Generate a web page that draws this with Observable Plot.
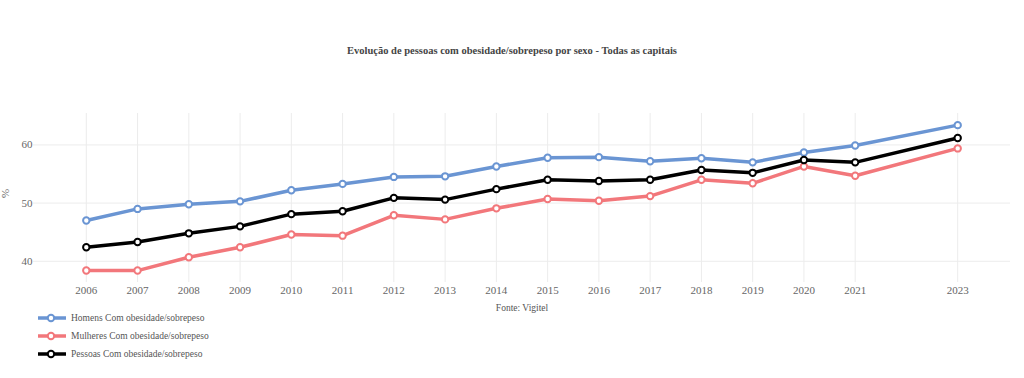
<!DOCTYPE html>
<html>
<head>
<meta charset="utf-8">
<script src="https://cdn.jsdelivr.net/npm/d3@7"></script>
<script src="https://cdn.jsdelivr.net/npm/@observablehq/plot@0.6"></script>
<style>
  html, body { margin: 0; padding: 0; background: #fff; }
  #wrap { position: relative; width: 1024px; height: 378px; font-family: "Liberation Serif", serif; overflow: hidden; }
  #title { position: absolute; top: 45px; left: 0; width: 1024px; text-align: center; font-size: 10.5px; font-weight: bold; color: #444; }
  #chart { position: absolute; top: 100px; left: 0; }
  #legend { position: absolute; top: 309px; left: 38px; }
  .item { display: flex; align-items: center; height: 18px; font-size: 9.5px; color: #555; }
  .item svg { margin-right: 5px; }
</style>
</head>
<body>
<div id="wrap">
  <div id="title">Evolução de pessoas com obesidade/sobrepeso por sexo - Todas as capitais</div>
  <div id="chart"></div>
  <div id="legend"></div>
</div>
<script>
const years = [2006, 2007, 2008, 2009, 2010, 2011, 2012, 2013, 2014, 2015, 2016, 2017, 2018, 2019, 2020, 2021, 2023];
const homens = [47.0, 49.0, 49.8, 50.3, 52.2, 53.3, 54.5, 54.6, 56.3, 57.8, 57.9, 57.2, 57.7, 57.0, 58.7, 59.9, 63.4];
const mulheres = [38.4, 38.4, 40.7, 42.4, 44.6, 44.4, 47.9, 47.2, 49.1, 50.7, 50.4, 51.2, 54.0, 53.4, 56.3, 54.7, 59.4];
const pessoas = [42.4, 43.3, 44.8, 46.0, 48.1, 48.6, 50.9, 50.6, 52.4, 54.0, 53.8, 54.0, 55.7, 55.2, 57.4, 57.0, 61.2];
const seriesNames = ["Homens Com obesidade/sobrepeso", "Mulheres Com obesidade/sobrepeso", "Pessoas Com obesidade/sobrepeso"];
const seriesColors = ["#6a95d3", "#f2777b", "#000000"];
const yTicks = [40, 50, 60];
const yLabel = "%";
const source = "Fonte: Vigitel";

const allValues = [homens, mulheres, pessoas];
const data = [];
allValues.forEach((vals, s) => {
  vals.forEach((v, i) => data.push({year: years[i], value: v, series: seriesNames[s]}));
});

const marks = [
  Plot.gridY(yTicks, {stroke: "#ececec", strokeOpacity: 1, strokeWidth: 1}),
  Plot.gridX(years, {stroke: "#ececec", strokeOpacity: 1, strokeWidth: 1}),
  Plot.axisX(years, {tickSize: 0, tickPadding: 4, tickFormat: d => String(d), fontSize: 11, fill: "#666", label: null}),
  Plot.axisY(yTicks, {tickSize: 0, tickPadding: 1, fontSize: 11, fill: "#666", label: null}),
  Plot.text([yLabel], {frameAnchor: "left", dx: -28, rotate: -90, fontSize: 11, fill: "#666"}),
  Plot.text([source], {frameAnchor: "bottom", dy: 28, fontSize: 9.5, fill: "#555"})
];
seriesNames.forEach((name, s) => {
  const d = data.filter(r => r.series === name);
  marks.push(Plot.line(d, {x: "year", y: "value", stroke: seriesColors[s], strokeWidth: 3.5}));
});
seriesNames.forEach((name, s) => {
  const d = data.filter(r => r.series === name);
  marks.push(Plot.dot(d, {x: "year", y: "value", r: 3.2, fill: "#fff", stroke: seriesColors[s], strokeWidth: 2}));
});

const chart = Plot.plot({
  width: 1024,
  height: 220,
  marginTop: 13,
  marginBottom: 38,
  marginLeft: 33,
  marginRight: 14,
  style: {fontFamily: "Liberation Serif, serif", background: "#fff"},
  x: {domain: [2004.97, 2024.03], axis: null},
  y: {domain: [36.35, 65.4], axis: null},
  marks
});
document.getElementById("chart").appendChild(chart);

const legend = document.getElementById("legend");
seriesNames.forEach((name, s) => {
  const item = document.createElement("div");
  item.className = "item";
  item.innerHTML = `<svg width="28" height="10"><line x1="0" x2="28" y1="5" y2="5" stroke="${seriesColors[s]}" stroke-width="3.5"/><circle cx="13" cy="5" r="3.2" fill="#fff" stroke="${seriesColors[s]}" stroke-width="2"/></svg>`;
  const span = document.createElement("span");
  span.textContent = name;
  item.appendChild(span);
  legend.appendChild(item);
});
</script>
</body>
</html>
